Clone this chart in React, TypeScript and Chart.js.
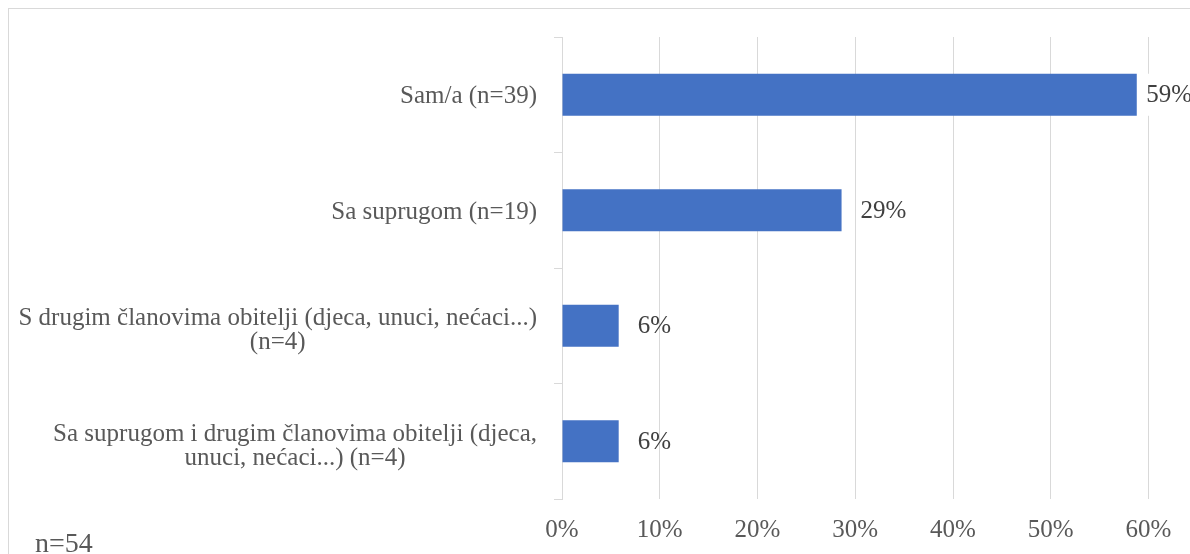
import React, { useEffect, useRef } from "react";
import { Chart, registerables } from "chart.js";

Chart.register(...registerables);

// ---- data ----
const categories: string[][] = [
  ["Sam/a (n=39)"],
  ["Sa suprugom (n=19)"],
  ["S drugim članovima obitelji (djeca, unuci, nećaci...)", "(n=4)"],
  ["Sa suprugom i drugim članovima obitelji (djeca,", "unuci, nećaci...) (n=4)"],
];
const values: number[] = [58.8, 28.6, 5.8, 5.8];
const xTicks: number[] = [0, 10, 20, 30, 40, 50, 60];
const footnote = "n=54";

// ---- style ----
const FONT = "'Liberation Serif', 'Times New Roman', serif";
const AXIS_GRAY = "#595959";
const LABEL_GRAY = "#404040";
const GRID = "#d9d9d9";
const BAR = "#4472C4";

export default function App() {
  const ref = useRef<HTMLCanvasElement>(null);

  useEffect(() => {
    const canvas = ref.current;
    if (!canvas) return;

    const yLabelsPlugin = {
      id: "yLabels",
      afterDraw(chart: any) {
        const ctx = chart.ctx as CanvasRenderingContext2D;
        const y = chart.scales.y;
        ctx.save();
        ctx.font = `25px ${FONT}`;
        ctx.fillStyle = AXIS_GRAY;
        ctx.textBaseline = "middle";
        ctx.textAlign = "center";
        const right = chart.chartArea.left - 25;
        const lh = 24;
        categories.forEach((lines, i) => {
          const cy = y.getPixelForValue(i) + 2 + (lines.length - 1) * 3;
          const w = Math.max(...lines.map((l) => ctx.measureText(l).width));
          const cx = right - w / 2;
          const start = cy - ((lines.length - 1) * lh) / 2;
          lines.forEach((l, j) => ctx.fillText(l, cx, start + j * lh));
        });
        ctx.font = `28px ${FONT}`;
        ctx.textAlign = "left";
        ctx.textBaseline = "alphabetic";
        ctx.fillText(footnote, 26, 543);
        ctx.restore();
      },
    };

    const dataLabelPlugin = {
      id: "dataLabels",
      afterDatasetsDraw(chart: any) {
        const ctx = chart.ctx as CanvasRenderingContext2D;
        const meta = chart.getDatasetMeta(0);
        ctx.save();
        ctx.font = `25px ${FONT}`;
        ctx.textBaseline = "middle";
        ctx.textAlign = "left";
        meta.data.forEach((bar: any, i: number) => {
          const { x, y, height } = bar.getProps(["x", "y", "height"], true);
          const text = Math.round(values[i]) + "%";
          const w = ctx.measureText(text).width;
          let tx = x + 19;
          const limit = chart.width + 2;
          let clamped = false;
          if (tx + w > limit) {
            tx = limit - w;
            clamped = true;
          }
          if (clamped) {
            ctx.fillStyle = "#ffffff";
            ctx.fillRect(tx, y - height / 2, w, height);
          }
          ctx.fillStyle = LABEL_GRAY;
          ctx.fillText(text, tx, y + 1);
        });
        ctx.restore();
      },
    };

    const chart = new Chart(canvas, {
      type: "bar",
      data: {
        labels: categories as any,
        datasets: [
          {
            data: values,
            backgroundColor: BAR,
            borderWidth: 0,
            categoryPercentage: 1,
            barPercentage: 0.364,
          },
        ],
      },
      options: {
        indexAxis: "y",
        responsive: false,
        animation: false,
        layout: { padding: { left: 0, top: 28, right: 41.5, bottom: 0 } },
        plugins: {
          legend: { display: false },
          tooltip: { enabled: false },
        },
        scales: {
          x: {
            min: xTicks[0],
            max: xTicks[xTicks.length - 1],
            afterBuildTicks: (s: any) => {
              s.ticks = xTicks.map((v) => ({ value: v }));
            },
            ticks: {
              callback: (v: any) => v + "%",
              color: AXIS_GRAY,
              font: { family: FONT, size: 25 },
              padding: 16,
              maxRotation: 0,
            },
            grid: { color: GRID, drawTicks: false, lineWidth: 1 },
            border: { display: false },
            afterFit: (s: any) => {
              s.height = 55;
            },
          },
          y: {
            ticks: { display: false },
            grid: {
              color: GRID,
              drawOnChartArea: false,
              drawTicks: true,
              tickLength: 8,
              offset: true,
            },
            border: { display: true, color: GRID },
            afterFit: (s: any) => {
              s.width = 553;
            },
          },
        },
      } as any,
      plugins: [yLabelsPlugin, dataLabelPlugin],
    });

    return () => chart.destroy();
  }, []);

  return (
    <div
      style={{
        position: "fixed",
        left: 8,
        top: 8,
        width: 1400,
        height: 800,
        borderTop: "1px solid #d9d9d9",
        borderLeft: "1px solid #d9d9d9",
        background: "#ffffff",
      }}
    >
      <canvas
        ref={ref}
        width={1181}
        height={545}
        style={{ display: "block", width: 1181, height: 545 }}
      />
    </div>
  );
}
